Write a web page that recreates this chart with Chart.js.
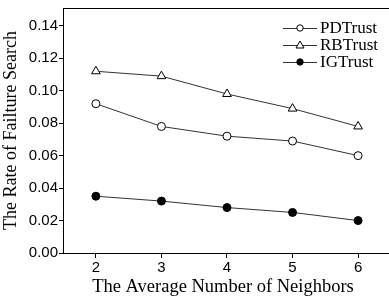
<!DOCTYPE html>
<html>
<head>
<meta charset="utf-8">
<script src="https://cdn.jsdelivr.net/npm/chart.js@4/dist/chart.umd.min.js"></script>
<style>
  html, body { margin: 0; padding: 0; background: #fff; }
  #wrap { width: 389px; height: 298px; }
</style>
</head>
<body>
<div id="wrap"><canvas id="chart" width="389" height="298"></canvas></div>
<script>
// data
const neighbors = [2, 3, 4, 5, 6];
const pdTrust = [0.092, 0.078, 0.072, 0.069, 0.060];
const rbTrust = [0.112, 0.109, 0.098, 0.089, 0.078];
const igTrust = [0.035, 0.032, 0.028, 0.025, 0.020];
const seriesNames = ["PDTrust", "RBTrust", "IGTrust"];
const yTicks = [0, 0.02, 0.04, 0.06, 0.08, 0.10, 0.12, 0.14];

function toPoints(vals) {
  return neighbors.map((x, i) => ({ x: x, y: vals[i] }));
}

// top edge of the frame, axis run-out to the edge, legend like the original
const framePlugin = {
  id: "frame",
  afterDraw(chart) {
    const ctx = chart.ctx;
    const a = chart.chartArea;
    ctx.save();
    ctx.strokeStyle = "#000";
    ctx.lineWidth = 1;
    ctx.beginPath();
    ctx.moveTo(a.left, Math.round(a.top) + 0.5);
    ctx.lineTo(chart.width, Math.round(a.top) + 0.5);
    ctx.moveTo(a.right - 1, Math.round(a.bottom) + 0.5);
    ctx.lineTo(chart.width, Math.round(a.bottom) + 0.5);
    ctx.stroke();

    // legend
    const lx = 283, ly = [28, 45, 62];
    ctx.font = "17px 'Liberation Serif', 'Times New Roman', serif";
    ctx.textBaseline = "middle";
    chart.data.datasets.forEach((ds, i) => {
      const y = ly[i];
      const cx = lx + 17;
      ctx.strokeStyle = ds.borderColor;
      ctx.lineWidth = 1;
      ctx.beginPath();
      ctx.moveTo(lx, y + 0.5);
      ctx.lineTo(lx + 34, y + 0.5);
      ctx.stroke();
      ctx.fillStyle = ds.pointBackgroundColor;
      ctx.strokeStyle = ds.pointBorderColor;
      ctx.beginPath();
      if (ds.pointStyle === "circle") {
        ctx.arc(cx, y, 3.2, 0, Math.PI * 2);
      } else {
        const r = 4;
        ctx.moveTo(cx, y - r);
        ctx.lineTo(cx + r, y + r * 0.75);
        ctx.lineTo(cx - r, y + r * 0.75);
        ctx.closePath();
      }
      ctx.fill();
      ctx.stroke();
      ctx.fillStyle = "#000";
      ctx.fillText(seriesNames[i], lx + 37, y + 1);
    });
    ctx.restore();
  }
};

const common = {
  borderColor: "#333",
  borderWidth: 1,
  pointBorderColor: "#000",
  pointBorderWidth: 1,
  showLine: true,
  tension: 0,
};

new Chart(document.getElementById("chart"), {
  type: "scatter",
  data: {
    datasets: [
      Object.assign({}, common, {
        label: seriesNames[0],
        data: toPoints(pdTrust),
        pointStyle: "circle",
        pointRadius: 4,
        pointBackgroundColor: "#fff",
      }),
      Object.assign({}, common, {
        label: seriesNames[1],
        data: toPoints(rbTrust),
        pointStyle: "triangle",
        pointRadius: 5,
        pointBackgroundColor: "#fff",
      }),
      Object.assign({}, common, {
        label: seriesNames[2],
        data: toPoints(igTrust),
        pointStyle: "circle",
        pointRadius: 4,
        pointBackgroundColor: "#000",
      }),
    ],
  },
  options: {
    responsive: false,
    animation: false,
    layout: { padding: { top: 8, right: 0, left: 0, bottom: 0 } },
    plugins: { legend: { display: false }, tooltip: { enabled: false } },
    scales: {
      x: {
        type: "linear",
        // plot area ends ~5px short of the canvas, range picked so 2..6 land where the original has them
        min: 1.498,
        max: 6.38,
        afterBuildTicks(scale) {
          scale.ticks = neighbors.map(v => ({ value: v }));
        },
        afterFit(scale) {
          scale.height = 45;
          scale.paddingLeft = 0;
          scale.paddingRight = 0;
        },
        grid: {
          drawOnChartArea: false,
          drawTicks: true,
          tickLength: 5,
          color: "#000",
        },
        border: { color: "#000", width: 1 },
        ticks: {
          color: "#000",
          padding: 1,
          font: { family: "'Liberation Sans', Arial, sans-serif", size: 15 },
          maxRotation: 0,
        },
        title: {
          display: true,
          text: "The Average Number of Neighbors",
          color: "#000",
          padding: { top: 0, bottom: 0 },
          font: { family: "'Liberation Serif', 'Times New Roman', serif", size: 18.5 },
        },
      },
      y: {
        min: 0,
        max: 0.151,
        afterBuildTicks(scale) {
          scale.ticks = yTicks.map(v => ({ value: v }));
        },
        afterFit(scale) {
          scale.width = 63;
          scale.paddingTop = 0;
          scale.paddingBottom = 0;
        },
        grid: {
          drawOnChartArea: false,
          drawTicks: true,
          tickLength: 4,
          color: "#000",
        },
        border: { color: "#000", width: 1 },
        ticks: {
          color: "#000",
          padding: 1,
          font: { family: "'Liberation Sans', Arial, sans-serif", size: 15 },
          callback: v => v.toFixed(2),
        },
        title: {
          display: true,
          text: "The Rate of Failture Search",
          color: "#000",
          padding: { top: 0, bottom: 0 },
          font: { family: "'Liberation Serif', 'Times New Roman', serif", size: 18 },
        },
      },
    },
  },
  plugins: [framePlugin],
});
</script>
</body>
</html>
